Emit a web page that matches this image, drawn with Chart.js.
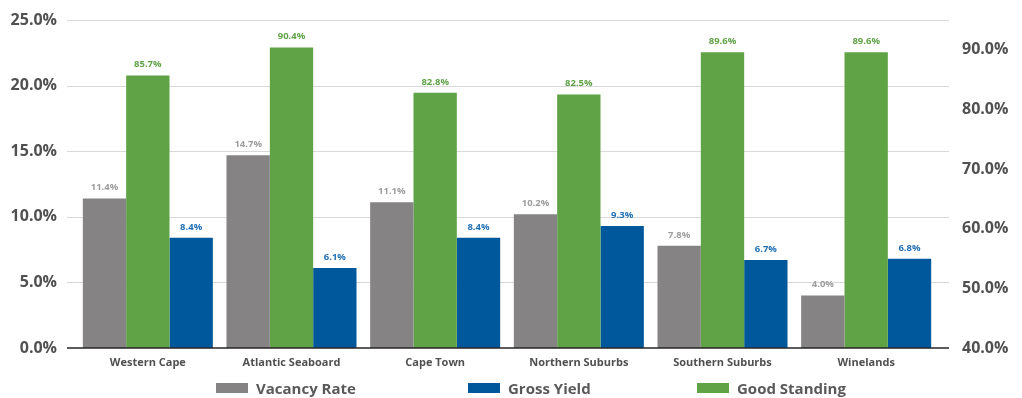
<!DOCTYPE html>
<html>
<head>
<meta charset="utf-8">
<script src="https://cdn.jsdelivr.net/npm/chart.js@4.4.1/dist/chart.umd.min.js"></script>
<style>
  body { margin: 0; background: #fff; }
  #wrap { position: relative; width: 1022px; height: 398px; }
  .legend-item { position: absolute; top: 379px; height: 18px; display: flex; align-items: center;
    font-family: "Open Sans", sans-serif; font-weight: bold; font-size: 15px; color: #595959; white-space: nowrap; }
  .legend-item span.box { display: inline-block; width: 32px; height: 10px; margin-right: 8px; }
</style>
</head>
<body>
<div id="wrap">
  <canvas id="myChart"></canvas>
  <div class="legend-item" style="left:216px"><span class="box" style="background:#858384"></span>Vacancy Rate</div>
  <div class="legend-item" style="left:468px"><span class="box" style="background:#00589c"></span>Gross Yield</div>
  <div class="legend-item" style="left:697px"><span class="box" style="background:#5fa346"></span>Good Standing</div>
</div>
<script>
const categories = ['Western Cape', 'Atlantic Seaboard', 'Cape Town', 'Northern Suburbs', 'Southern Suburbs', 'Winelands'];
const vacancyRate = [11.4, 14.7, 11.1, 10.2, 7.8, 4.0];
const grossYield = [8.4, 6.1, 8.4, 9.3, 6.7, 6.8];
const goodStanding = [85.7, 90.4, 82.8, 82.5, 89.6, 89.6];

var fontFamily = '"Open Sans", sans-serif';

function pct(v) {
  return v.toFixed(1) + '%';
}

// fixed axis widths, no extra room for half labels
function fixWidth(w) {
  return function(scale) {
    scale.width = w;
    scale.paddingTop = 0;
    scale.paddingBottom = 0;
  };
}

// gridlines a bit wider than the plot, like the original
var gridPlugin = {
  id: 'gridPlugin',
  beforeDatasetsDraw: function(chart) {
    var ctx = chart.ctx;
    var area = chart.chartArea;
    var y = chart.scales.y;
    ctx.save();
    ctx.strokeStyle = '#d9d9d9';
    ctx.lineWidth = 1;
    y.ticks.forEach(function(t) {
      if (t.value === 0) return;
      var py = Math.round(y.getPixelForValue(t.value)) + 0.5;
      ctx.beginPath();
      ctx.moveTo(area.left - 9, py);
      ctx.lineTo(area.right + 11, py);
      ctx.stroke();
    });
    ctx.restore();
  },
  afterDatasetsDraw: function(chart) {
    var ctx = chart.ctx;
    var area = chart.chartArea;
    var py = chart.scales.y.getPixelForValue(0);
    ctx.save();
    ctx.strokeStyle = '#262626';
    ctx.lineWidth = 1.5;
    ctx.beginPath();
    ctx.moveTo(area.left - 9, py);
    ctx.lineTo(area.right + 11, py);
    ctx.stroke();

    // value labels over the bars
    ctx.font = 'bold 9.5px ' + fontFamily;
    ctx.textAlign = 'center';
    ctx.textBaseline = 'bottom';
    chart.data.datasets.forEach(function(ds, i) {
      var meta = chart.getDatasetMeta(i);
      ctx.fillStyle = ds.labelColor;
      meta.data.forEach(function(bar, j) {
        ctx.fillText(pct(ds.data[j]), bar.x, bar.y - 6);
      });
    });
    ctx.restore();
  }
};

var ctx = document.getElementById('myChart').getContext('2d');
var chart = new Chart(ctx, {
  type: 'bar',
  data: {
    labels: categories,
    datasets: [{
      label: 'Vacancy Rate',
      backgroundColor: '#858384',
      labelColor: '#9d9d9d',
      data: vacancyRate,
      yAxisID: 'y'
    }, {
      label: 'Good Standing',
      backgroundColor: '#5fa346',
      labelColor: '#5fa346',
      data: goodStanding,
      yAxisID: 'y1'
    }, {
      label: 'Gross Yield',
      backgroundColor: '#00589c',
      labelColor: '#1f6fb5',
      data: grossYield,
      yAxisID: 'y'
    }]
  },
  options: {
    responsive: true,
    maintainAspectRatio: false,
    animation: false,
    categoryPercentage: 0.905,
    barPercentage: 1.0,
    layout: { padding: { top: 20, bottom: 20, left: 0, right: 0 } },
    plugins: {
      legend: { display: false },
      tooltip: { enabled: false }
    },
    scales: {
      x: {
        grid: { display: false, drawTicks: false },
        border: { display: false },
        ticks: {
          padding: 8,
          color: '#505050',
          font: { family: fontFamily, weight: 'bold', size: 11 }
        },
        afterFit: function(scale) { scale.height = 30; }
      },
      y: {
        position: 'left',
        min: 0,
        max: 25,
        grid: { display: false, drawTicks: false },
        border: { display: false },
        ticks: {
          stepSize: 5,
          padding: 19,
          color: '#505050',
          font: { family: fontFamily, weight: 'bold', size: 16 },
          callback: function(v) { return pct(v); }
        },
        afterFit: fixWidth(76)
      },
      y1: {
        position: 'right',
        min: 40,
        max: 95,
        grid: { display: false, drawTicks: false },
        border: { display: false },
        ticks: {
          stepSize: 10,
          includeBounds: false,
          padding: 24,
          color: '#505050',
          font: { family: fontFamily, weight: 'bold', size: 16 },
          callback: function(v) { return pct(v); }
        },
        afterFit: fixWidth(84)
      }
    }
  },
  plugins: [gridPlugin]
});
</script>
</body>
</html>
